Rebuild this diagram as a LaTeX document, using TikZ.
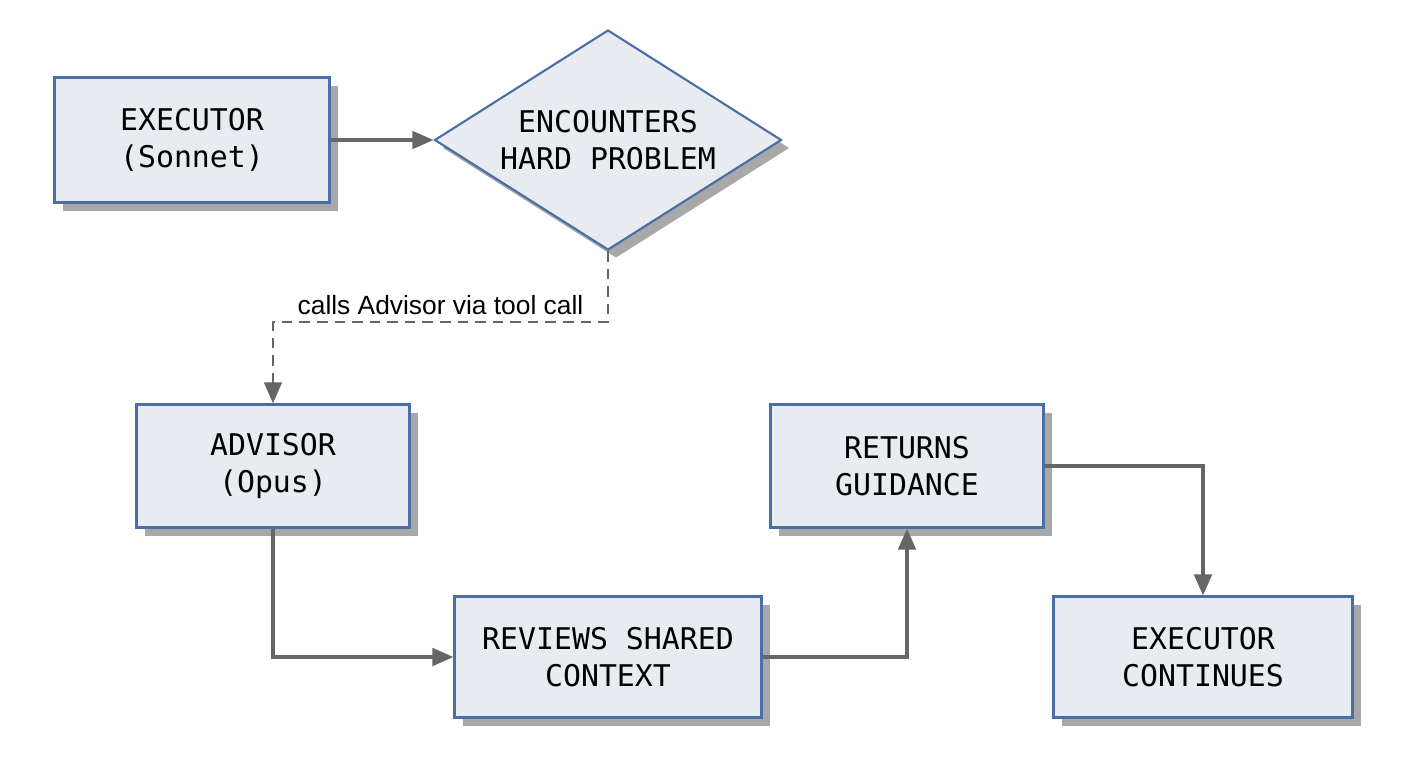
\documentclass[tikz,border=0pt]{standalone}
\usepackage{fontspec}
\setmainfont{Liberation Sans}
\newfontfamily\monofont{DejaVu Sans Mono}
\usetikzlibrary{arrows.meta,positioning,shapes.geometric,shadows}
\definecolor{boxfill}{HTML}{E8ECF0}
\definecolor{boxline}{HTML}{4A6FA5}
\definecolor{arrowgray}{HTML}{666666}
\definecolor{shadowgray}{HTML}{A8A8A8}
\begin{document}
\begin{tikzpicture}[x=0.02cm,y=-0.02cm,
  box/.style={rectangle,draw=boxline,line width=1.2pt,fill=boxfill,align=center,
    font=\monofont\fontsize{17}{21}\selectfont,
    drop shadow={shadow xshift=8*0.02cm,shadow yshift=-8*0.02cm,fill=shadowgray,opacity=1}},
  decision/.style={diamond,draw=boxline,line width=1.2pt,fill=boxfill,align=center,aspect=1.58,inner sep=0pt,
    font=\monofont\fontsize{17}{21}\selectfont,
    drop shadow={shadow xshift=8*0.02cm,shadow yshift=-8*0.02cm,fill=shadowgray,opacity=1}},
  flow/.style={-{Triangle[length=12pt,width=10pt]},draw=arrowgray,line width=2pt}]
\useasboundingbox (0,0) rectangle (1408,768);
\node[box,minimum width=275*0.02cm,minimum height=125*0.02cm] (exec) at (192,140) {EXECUTOR\\(Sonnet)};
\node[decision,minimum width=347*0.02cm,minimum height=220*0.02cm] (hard) at (608,140) {ENCOUNTERS\\HARD PROBLEM};
\node[box,minimum width=273*0.02cm,minimum height=123*0.02cm] (advisor) at (273,466) {ADVISOR\\(Opus)};
\node[box,minimum width=307*0.02cm,minimum height=121*0.02cm] (reviews) at (608,657) {REVIEWS SHARED\\CONTEXT};
\node[box,minimum width=273*0.02cm,minimum height=123*0.02cm] (returns) at (907,466) {RETURNS\\GUIDANCE};
\node[box,minimum width=299*0.02cm,minimum height=121*0.02cm] (cont) at (1203,657) {EXECUTOR\\CONTINUES};
\coordinate (bend) at (608,322);
\draw[flow] (exec) -- (hard);
\draw[flow,dash pattern=on 6pt off 4pt,line width=1.5pt] (hard.south) -- (bend) -| node[pos=0.25,above,font=\fontsize{15}{18}\selectfont,black] {calls Advisor via tool call} (advisor.north);
\draw[flow] (advisor.south) |- (reviews.west);
\draw[flow] (reviews.east) -| (returns.south);
\draw[flow] (returns.east) -| (cont.north);
\end{tikzpicture}
\end{document}
